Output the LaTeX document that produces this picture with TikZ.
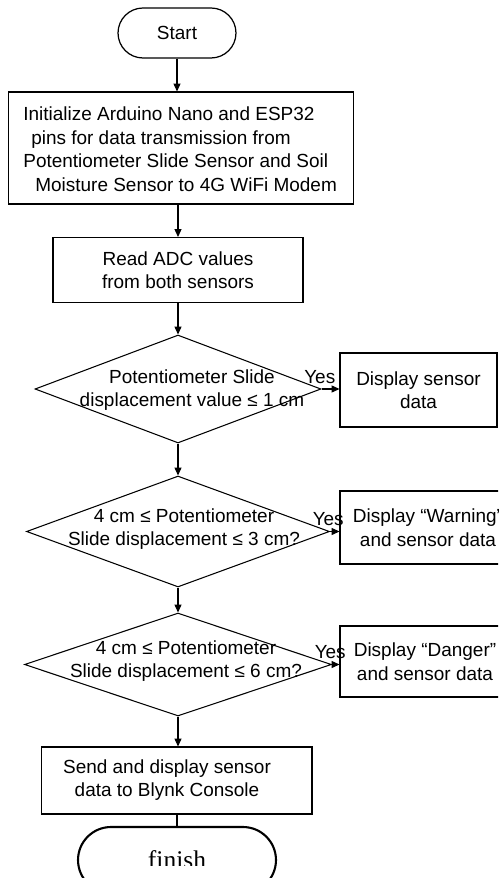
\documentclass[tikz,border=0pt]{standalone}
\usepackage{fontspec}
\setmainfont{Liberation Sans}
\newfontfamily\finishfont{Liberation Serif}
\usetikzlibrary{shapes.geometric,arrows.meta}
\tikzset{
 terminal/.style={draw,rectangle,line width=0.7pt,inner sep=0pt},
 process/.style={draw,rectangle,line width=0.6pt,align=center,inner sep=0pt},
 decision/.style={draw,diamond,line width=0.6pt,inner sep=0pt},
 txt/.style={align=center,inner sep=0pt},
 arrow/.style={line width=0.6pt,-{Triangle[length=4.5pt,width=4pt]}},
 yes/.style={pos=0,above,inner sep=3pt,xshift=-1pt}
}
\begin{document}
\begin{tikzpicture}[x=0.02cm,y=-0.02cm,font=\fontsize{10.8}{13.4}\selectfont]
 \useasboundingbox (0,0) rectangle (498,878);
 \clip (0,0) rectangle (498,878);
 \node[terminal,minimum width=2.36cm,minimum height=1cm,rounded corners=0.5cm] (start) at (177,33) {Start};
 \node[process,minimum width=6.92cm,minimum height=2.24cm] (init) at (181,148) {};
 \node[txt,align=left,anchor=west] (initt) at (23,149)
  {Initialize Arduino Nano and ESP32\\\hspace*{4.5pt}pins for data transmission from\\Potentiometer Slide Sensor and Soil\\\hspace*{6.8pt}Moisture Sensor to 4G WiFi Modem};
 \node[process,minimum width=5cm,minimum height=1.3cm] (read) at (178,270) {Read ADC values\\ from both sensors};
 \node[decision,minimum width=5.72cm,minimum height=2.16cm] (cond1) at (178,389) {};
 \node[txt] (cond1t) at (192,390) {Potentiometer Slide\\displacement value ≤ 1 cm};
 \node[decision,minimum width=6.06cm,minimum height=2.22cm] (cond2) at (178,531.5) {};
 \node[txt] (cond2t) at (184,529) {4 cm ≤ Potentiometer\\Slide displacement ≤ 3 cm?};
 \node[decision,minimum width=6.14cm,minimum height=2.06cm] (cond3) at (178,664.5) {};
 \node[txt] (cond3t) at (186,661) {4 cm ≤ Potentiometer\\Slide displacement ≤ 6 cm?};
 \node[process,minimum width=3.14cm,minimum height=1.48cm] (show1) at (418.5,390) {Display sensor\\data};
 \node[process,minimum width=3.52cm,minimum height=1.46cm] (show2) at (428,527.5) {Display “Warning”\\and sensor data};
 \node[process,minimum width=3.4cm,minimum height=1.42cm] (show3) at (425,661.5) {Display “Danger”\\and sensor data};
 \node[process,minimum width=5.42cm,minimum height=1.34cm] (send) at (176.5,780.5) {};
 \node[txt] (sendt) at (167,780) {Send and display sensor\\data to Blynk Console};
 \node[terminal,line width=1.2pt,minimum width=3.96cm,minimum height=1.32cm,rounded corners=0.66cm] (finish) at (177,860) {};
 \begin{scope}
  \clip (0,0) rectangle (498,865);
  \node[txt,font=\finishfont\fontsize{14.5}{16}\selectfont] (finisht) at (finish) {finish};
 \end{scope}
 \draw[arrow] (start.south) -- (start.south |- init.north);
 \draw[arrow] (init.south -| read.north) -- (read.north);
 \draw[arrow] (read.south) -- (cond1.north);
 \draw[arrow] (cond1.south) -- (cond2.north);
 \draw[arrow] (cond2.south) -- (cond3.north);
 \draw[arrow] (cond3.south) -- (send.north -| cond3.south);
 \draw[line width=0.6pt] (send.south -| finish.north) -- (finish.north);
 \draw[arrow] (cond1.east) -- node[yes] {Yes} (cond1.east -| show1.west);
 \draw[arrow] (cond2.east) -- node[yes] {Yes} (cond2.east -| show2.west);
 \draw[arrow] (cond3.east) -- node[yes] {Yes} (cond3.east -| show3.west);
\end{tikzpicture}
\end{document}
